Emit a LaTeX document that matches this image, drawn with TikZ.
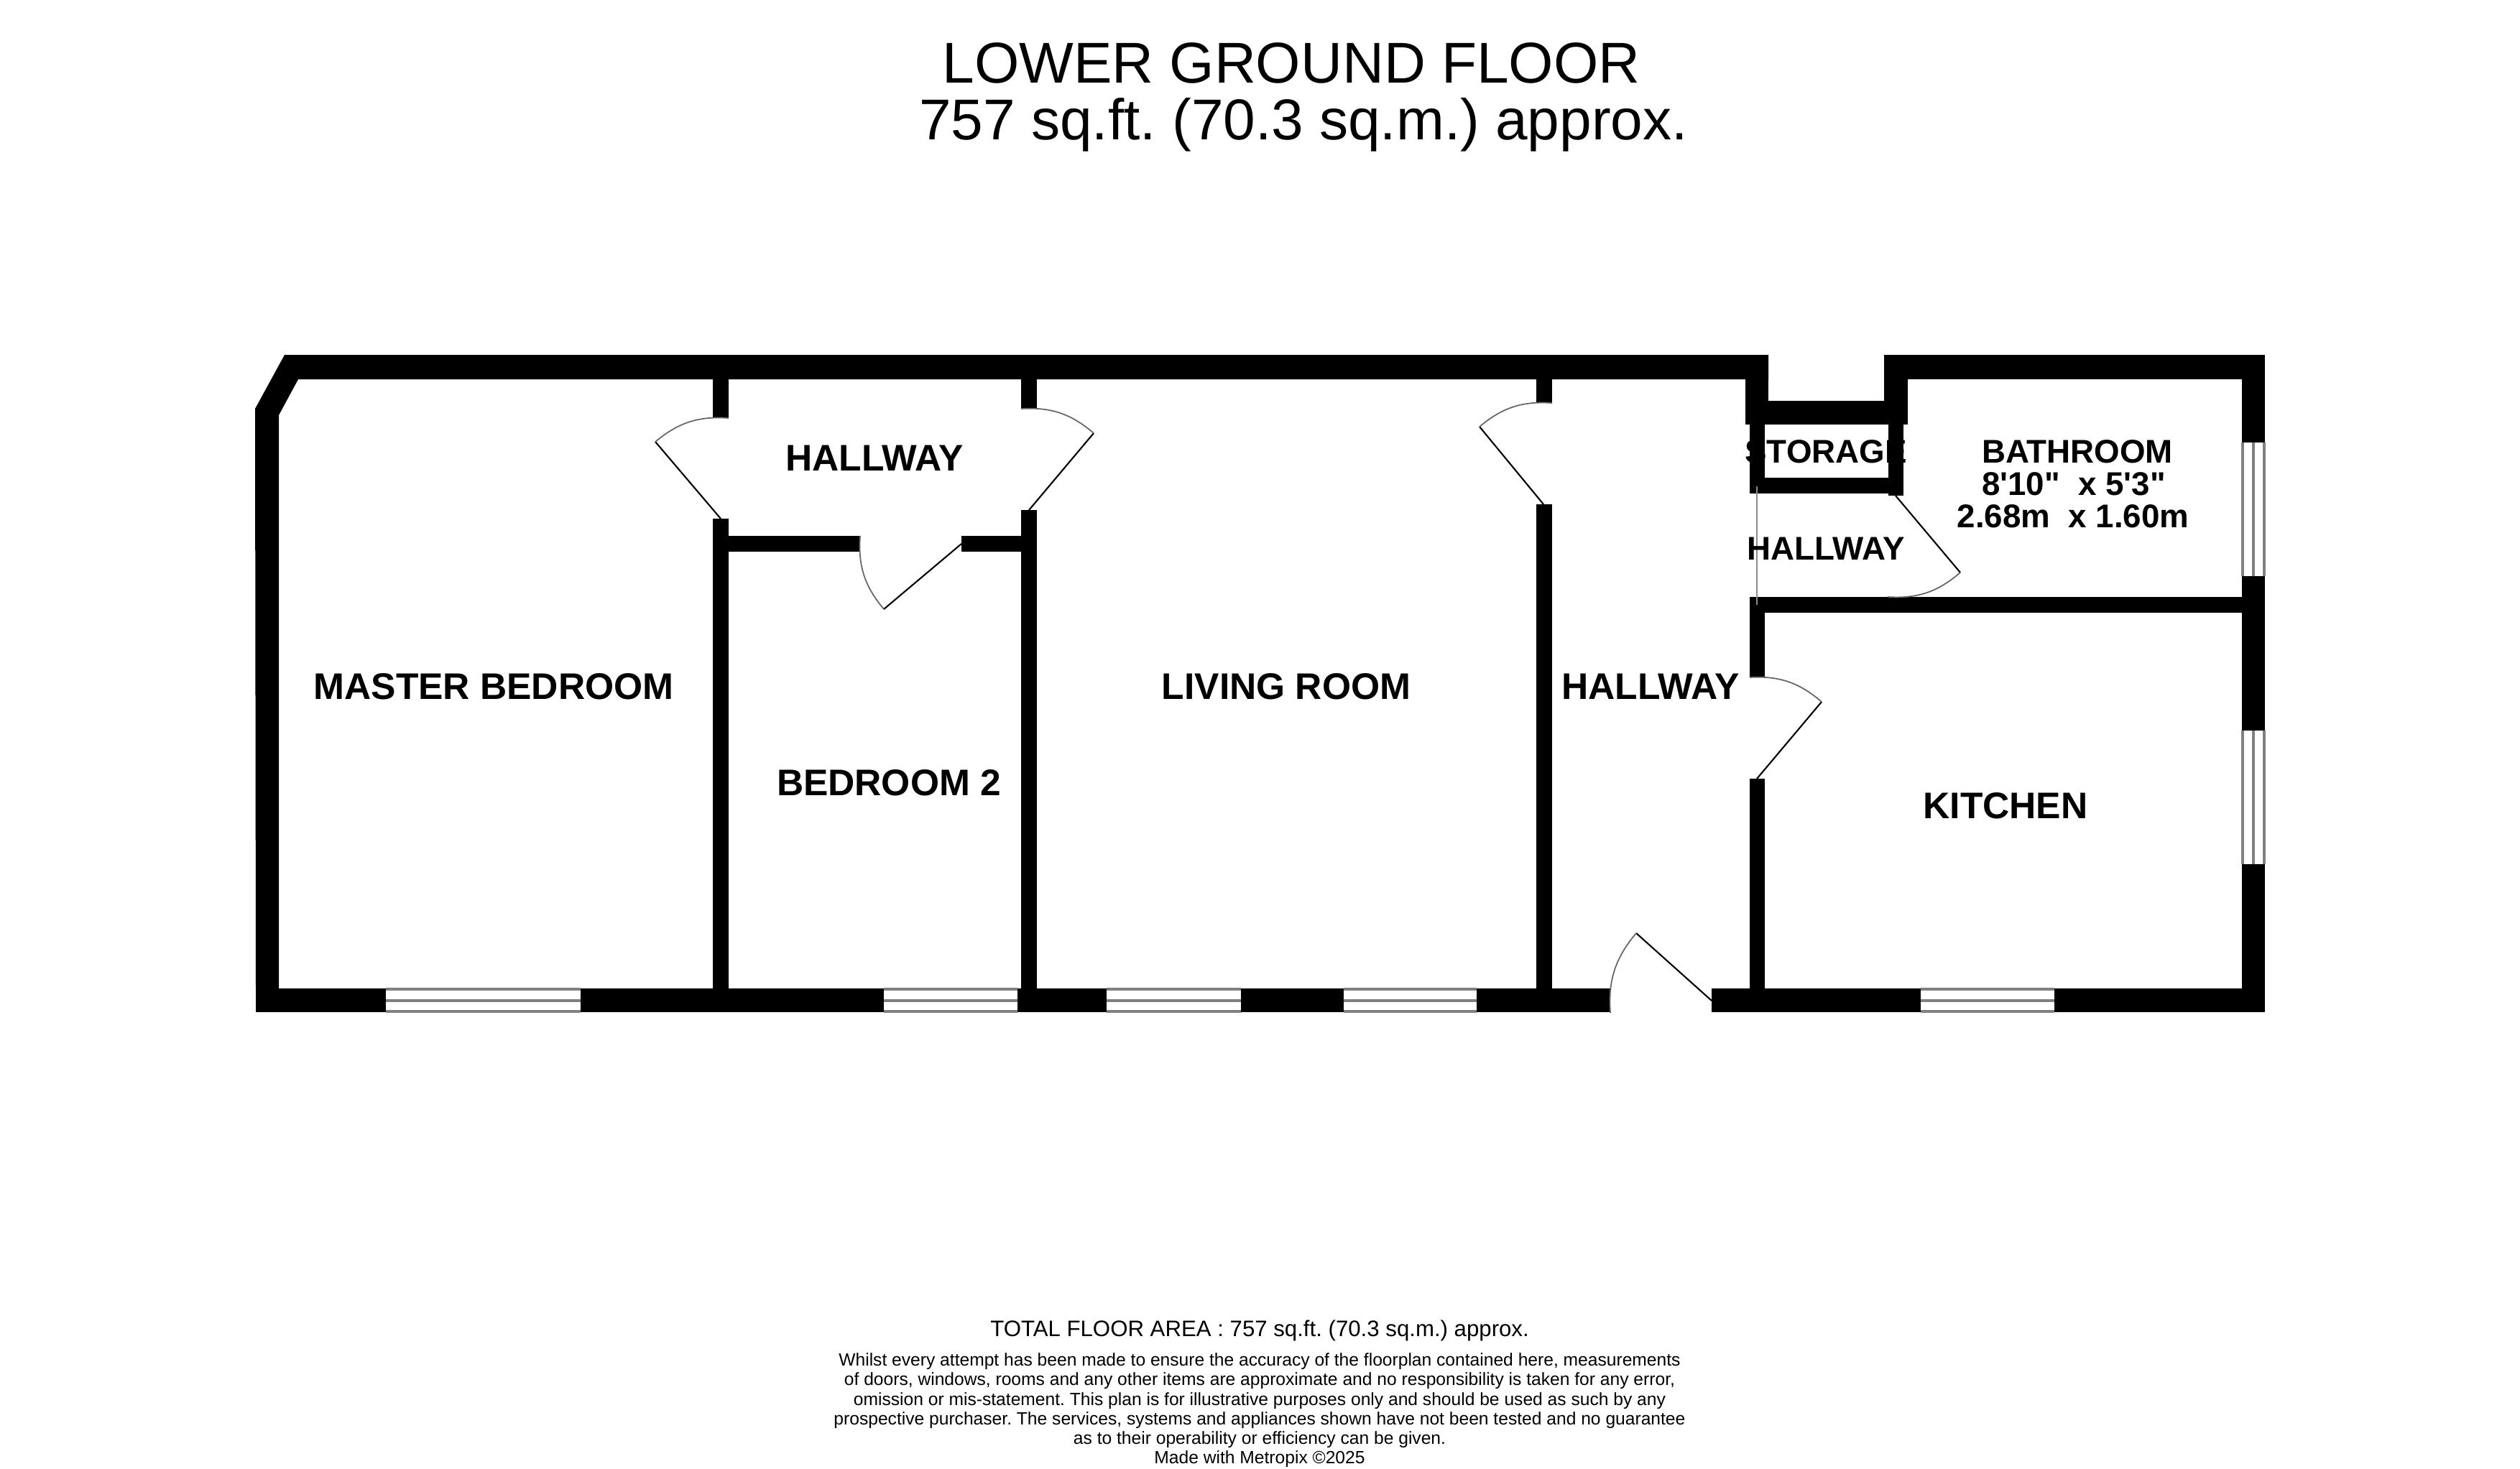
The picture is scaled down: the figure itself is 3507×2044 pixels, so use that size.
\documentclass[tikz,border=0pt]{standalone}
\usepackage{fontspec}
\setmainfont{Liberation Sans}
\newfontfamily\roomfont{Liberation Sans}
\usetikzlibrary{positioning}

\tikzset{
  x=0.01cm, y=-0.01cm,
  wall/.style={fill=black, draw=none},
  paneline/.style={draw=black!50, line width=1pt},
  leaf/.style={draw=black, line width=0.6pt},
  swing/.style={draw=black!60, line width=0.5pt},
  roomlabel/.style={font=\roomfont\bfseries\fontsize{14.65}{17.5}\selectfont, inner sep=0pt},
  smalllabel/.style={font=\roomfont\bfseries\fontsize{13}{15}\selectfont, inner sep=0pt},
  titlelabel/.style={font=\fontsize{22.8}{27}\selectfont, inner sep=0pt, anchor=base},
}

\begin{document}
\frenchspacing
\begin{tikzpicture}
\useasboundingbox (0,0) rectangle (3507,2044);

% outer walls
\fill[wall] (396,494) -- (2461,494) -- (2461,528) -- (415,528) -- (388,578) -- (388,1376) -- (356,1376) -- (355,569) -- cycle;
\fill[wall] (2622,494) rectangle (3152,528);
\fill[wall] (3120,494) rectangle (3152,616);
\fill[wall] (3120,802) rectangle (3152,1017);
\fill[wall] (3120,1203) rectangle (3152,1409);

% bottom wall
\fill[wall] (356,1376) rectangle (537,1409);
\fill[wall] (808,1376) rectangle (1230,1409);
\fill[wall] (1416,1376) rectangle (1540,1409);
\fill[wall] (1727,1376) rectangle (1870,1409);
\fill[wall] (2055,1376) rectangle (2241,1409);
\fill[wall] (2382,1376) rectangle (2673,1409);
\fill[wall] (2859,1376) rectangle (3152,1409);

% partitions
\fill[wall] (992,528) rectangle (1014,582);
\fill[wall] (992,722) rectangle (1014,1376);
\fill[wall] (1421,528) rectangle (1443,569);
\fill[wall] (1421,710) rectangle (1443,1376);
\fill[wall] (1014,746) rectangle (1197,768);
\fill[wall] (1338,746) rectangle (1421,768);
\fill[wall] (2138,528) rectangle (2160,561);
\fill[wall] (2138,702) rectangle (2160,1376);
\fill[wall] (2435,853) rectangle (2456,943);
\fill[wall] (2435,1084) rectangle (2456,1376);

% storage
\fill[wall] (2429,494) rectangle (2461,591);
\fill[wall] (2622,494) rectangle (2655,591);
\fill[wall] (2429,558) rectangle (2655,591);
\fill[wall] (2435,591) rectangle (2456,687);
\fill[wall] (2628,591) rectangle (2649,690);
\fill[wall] (2435,665) rectangle (2649,687);
\fill[wall] (2435,831) rectangle (3152,853);

% windows
\foreach \wa/\wb in {537/808, 1230/1416, 1540/1727, 1870/2055, 2673/2859} {
  \draw[paneline] (\wa,1377) -- (\wb,1377);
  \draw[paneline] (\wa,1393) -- (\wb,1393);
  \draw[paneline] (\wa,1408) -- (\wb,1408);
}
\foreach \wa/\wb in {616/802, 1017/1203} {
  \draw[paneline] (3121,\wa) -- (3121,\wb);
  \draw[paneline] (3136,\wa) -- (3136,\wb);
  \draw[paneline] (3151,\wa) -- (3151,\wb);
}
\draw[draw=black!45, line width=0.5pt] (2445,677) -- (2445,842);

% doors
\coordinate (h1) at (1003,722);
\coordinate (e1) at (912,615);
\coordinate (j1) at (1014,582);
\coordinate (h2) at (1432,710);
\coordinate (e2) at (1522,603);
\coordinate (j2) at (1421,569);
\coordinate (h3) at (1338,757);
\coordinate (e3) at (1230,848);
\coordinate (j3) at (1197,746);
\coordinate (h4) at (2148,702);
\coordinate (e4) at (2059,594);
\coordinate (j4) at (2160,561);
\coordinate (h5) at (2638,690);
\coordinate (e5) at (2728,797);
\coordinate (j5) at (2627,831);
\coordinate (h6) at (2445,1084);
\coordinate (e6) at (2535,977);
\coordinate (j6) at (2435,943);
\coordinate (h7) at (2382,1393);
\coordinate (e7) at (2277,1299);
\coordinate (j7) at (2241,1410);

\draw[leaf] (h1) -- (e1);
\draw[swing] (e1) to[bend left=22] (j1);
\draw[leaf] (h2) -- (e2);
\draw[swing] (e2) to[bend right=22] (j2);
\draw[leaf] (h3) -- (e3);
\draw[swing] (e3) to[bend left=22] (j3);
\draw[leaf] (h4) -- (e4);
\draw[swing] (e4) to[bend left=22] (j4);
\draw[leaf] (h5) -- (e5);
\draw[swing] (e5) to[bend left=22] (j5);
\draw[leaf] (h6) -- (e6);
\draw[swing] (e6) to[bend right=22] (j6);
\draw[leaf] (h7) -- (e7);
\draw[swing] (e7) to[bend right=22] (j7);

% rooms
\node[roomlabel] (master) at (687,956) {MASTER BEDROOM};
\node[roomlabel] (hallup) at (1217,638) {HALLWAY};
\node[roomlabel] (bed2) at (1237,1090) {BEDROOM 2};
\node[roomlabel] (living) at (1790,956) {LIVING ROOM};
\node[roomlabel] (halllong) at (2297,956) {HALLWAY};
\node[smalllabel] (storage) at (2541,629) {STORAGE};
\node[smalllabel] (bath) at (2891,629) {BATHROOM};
\node[smalllabel] (bathft) at (2886,674) {8'10"~~x 5'3"};
\node[smalllabel] (bathm) at (2885,719) {2.68m~~x 1.60m};
\node[smalllabel] (hallbath) at (2541,764) {HALLWAY};
\node[roomlabel] (kitchen) at (2791,1122) {KITCHEN};

% title and footer
\node[titlelabel] (title) at (1797,115) {LOWER GROUND FLOOR};
\node[titlelabel] (area) at (1814,194) {757 sq.ft. (70.3 sq.m.) approx.};
\node[font=\fontsize{8.87}{11}\selectfont, inner sep=0pt] (total) at (1753,1852) {TOTAL FLOOR AREA : 757 sq.ft. (70.3 sq.m.) approx.};
\node[font=\fontsize{7}{7.74}\selectfont, inner sep=0pt, align=center, anchor=north] (note) at (1753,1883) {Whilst every attempt has been made to ensure the accuracy of the floorplan contained here, measurements\\
of doors, windows, rooms and any other items are approximate and no responsibility is taken for any error,\\
omission or mis-statement. This plan is for illustrative purposes only and should be used as such by any\\
prospective purchaser. The services, systems and appliances shown have not been tested and no guarantee\\
as to their operability or efficiency can be given.\\
Made with Metropix ©2025};
\end{tikzpicture}
\end{document}
